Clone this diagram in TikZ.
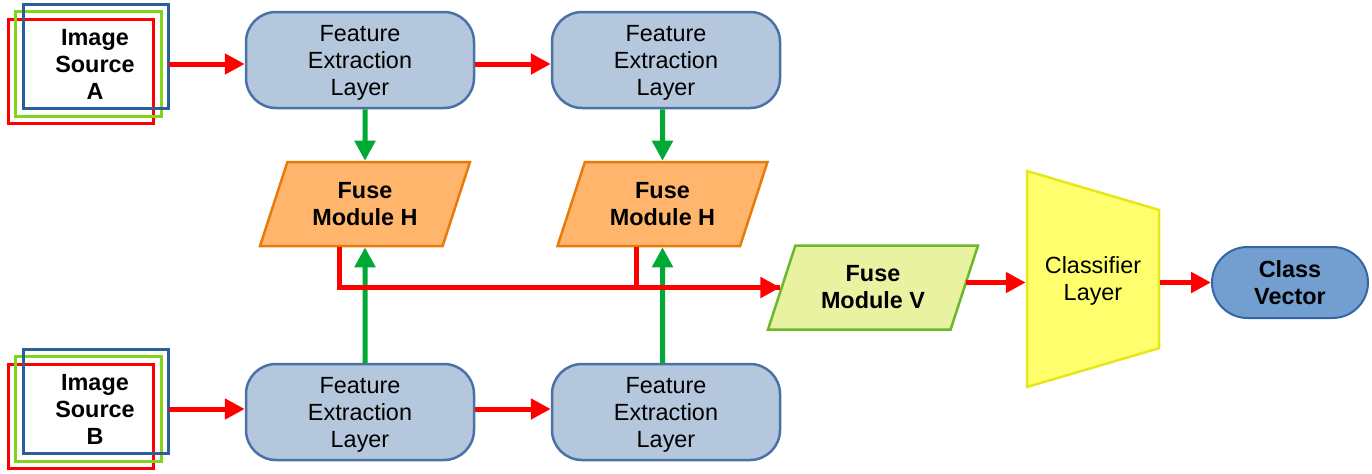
\documentclass[tikz,border=0pt]{standalone}
\usepackage{fontspec}
\setmainfont{Liberation Sans}
\usetikzlibrary{shapes.geometric,shapes.misc,arrows.meta}

\definecolor{feblue}{HTML}{B4C7DC}
\definecolor{feedge}{HTML}{4A72A6}
\definecolor{cvblue}{HTML}{729FCF}
\definecolor{cvedge}{HTML}{3465A4}
\definecolor{fhfill}{HTML}{FFB66C}
\definecolor{fhedge}{HTML}{E87A0C}
\definecolor{fvfill}{HTML}{E8F2A1}
\definecolor{fvedge}{HTML}{6CB72A}
\definecolor{clfill}{HTML}{FFFF6D}
\definecolor{cledge}{HTML}{E6E619}
\definecolor{imgblue}{HTML}{2A6099}
\definecolor{imggreen}{HTML}{81D41A}
\definecolor{arrgreen}{HTML}{00A933}

\begin{document}
\begin{tikzpicture}[x=0.5pt,y=-0.5pt,
    font=\fontsize{11.7}{13.5}\selectfont,
    imgsrc/.style={minimum width=72.5pt,minimum height=52pt,
        inner sep=0,align=center,font=\fontsize{11.7}{13.5}\selectfont\bfseries},
    feat/.style={draw=feedge,fill=feblue,line width=1.25pt,rounded corners=15pt,
        minimum width=114pt,minimum height=48pt,inner sep=0,align=center,text depth=0pt},
    fuseh/.style={trapezium,trapezium left angle=57.7,trapezium right angle=122.3,
        trapezium stretches body,draw=fhedge,fill=fhfill,line width=1.25pt,
        minimum width=105pt,minimum height=42pt,inner sep=0,align=center,
        font=\fontsize{11.7}{13.5}\selectfont\bfseries},
    fusev/.style={fuseh,draw=fvedge,fill=fvfill},
    classif/.style={trapezium,trapezium angle=68,shape border rotate=270,
        trapezium stretches body,draw=cledge,fill=clfill,line width=1.25pt,
        minimum width=108pt,minimum height=66pt,inner sep=0,align=center,text depth=0pt},
    vect/.style={rounded rectangle,draw=cvedge,fill=cvblue,line width=1pt,
        minimum width=78pt,minimum height=35.5pt,inner sep=0,align=center,
        font=\fontsize{11.7}{13.5}\selectfont\bfseries},
    redarr/.style={draw=red,line width=2.5pt,-{Triangle[length=10pt,width=10pt]}},
    redline/.style={draw=red,line width=2.5pt},
    greenarr/.style={draw=arrgreen,line width=2.5pt,-{Triangle[length=10pt,width=10pt]}}]

\useasboundingbox (0,0) rectangle (1372,473);

% sources
\node[imgsrc] (imga) at (95,64) {Image\\Source\\A};
\node[imgsrc] (imgb) at (95,409) {Image\\Source\\B};
\foreach \s in {imga,imgb}{
    \draw[red,line width=1.5pt] ([shift={(-14,7.5)}]\s.south west) rectangle ([shift={(-14,7.5)}]\s.north east);
    \draw[imggreen,line width=1.5pt] ([shift={(-6.5,0)}]\s.south west) rectangle ([shift={(-6.5,0)}]\s.north east);
    \draw[imgblue,line width=1.5pt] ([shift={(1,-7.5)}]\s.south west) rectangle ([shift={(1,-7.5)}]\s.north east);
}

% feature extraction
\node[feat] (fea1) at (360,60) {Feature\\Extraction\\Layer};
\node[feat] (fea2) at (666,60) {Feature\\Extraction\\Layer};
\node[feat] (feb1) at (360,412) {Feature\\Extraction\\Layer};
\node[feat] (feb2) at (666,412) {Feature\\Extraction\\Layer};

% fusion
\node[fuseh] (fh1) at (365,204) {Fuse\\Module H};
\node[fuseh] (fh2) at (662.5,204) {Fuse\\Module H};
\node[fusev] (fv) at (873,287.5) {Fuse\\Module V};

\node[classif] (cls) at (1093,279) {Classifier\\Layer};
\node[vect] (cv) at (1290,282.5) {Class\\Vector};

% connections
\draw[redarr] ([xshift=0.5pt]imga.east) -- (imga.east -| fea1.west);
\draw[redarr] (imga.east -| fea1.east) -- (imga.east -| fea2.west);
\draw[redarr] ([xshift=0.5pt]imgb.east) -- (imgb.east -| feb1.west);
\draw[redarr] (imgb.east -| feb1.east) -- (imgb.east -| feb2.west);

\draw[greenarr] (fh1 |- fea1.south) -- (fh1.north);
\draw[greenarr] (fh2 |- fea2.south) -- (fh2.north);
\draw[greenarr] (fh1 |- feb1.north) -- (fh1.south);
\draw[greenarr] (fh2 |- feb2.north) -- (fh2.south);

\draw[redarr] ([xshift=-13pt]fh1.south) |- (fv.west);
\draw[redline] ([xshift=-13pt]fh2.south) |- (fv.west);

\draw[redarr] (fv.east |- cv) -- (cls.west |- cv);
\draw[redarr] (cls.east |- cv) -- (cv.west);

\end{tikzpicture}
\end{document}
